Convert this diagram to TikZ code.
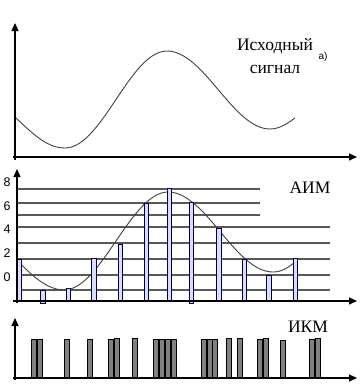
\documentclass[tikz,border=0pt]{standalone}
\usepackage{fontspec}
\setmainfont{Liberation Serif}
\newfontfamily\arialfont{Liberation Sans}
\usetikzlibrary{arrows.meta}

\begin{document}
\begin{tikzpicture}[
    x=1pt, y=-1pt,
    >={Triangle[length=8pt, width=7pt]},
    axis/.style={->, line width=1.1pt, black},
    sig/.style={line width=0.9pt, black!75},
    level/.style={line width=1.7pt, black!65},
    aim/.style={draw=black!75!blue, fill=blue!14, line width=0.9pt},
    ikm/.style={draw=black, fill=black!50, line width=0.8pt},
    title/.style={font=\fontsize{17.5}{23}\selectfont, align=center},
    tick/.style={font=\arialfont\fontsize{12.5}{13}\selectfont},
    small/.style={font=\arialfont\fontsize{10}{11}\selectfont}
]
    \useasboundingbox (0,0) rectangle (364,384);

    % a) source signal
    \draw[axis] (15,160) -- (15,23);
    \draw[axis] (13,157) -- (357,157);
    \draw[sig] (16,118) .. controls (35,136) and (48,148) .. (65,148)
        .. controls (102,148) and (130,51) .. (167,51)
        .. controls (204,51) and (233,129) .. (270,129)
        .. controls (280,129) and (288,123) .. (295,118);
    \node[title] (src) at (275,56) {Исходный\\сигнал};
    \node[small] (lbla) at (323,57) {а)};

    % b) PAM
    \foreach \y in {189,203,215}
        \draw[level] (18,\y) -- (260,\y);
    \foreach \y in {227,243,259,275,290}
        \draw[level] (18,\y) -- (330,\y);
    \foreach \v/\y in {8/182,6/206,4/229,2/253,0/277}
        \node[tick] at (7,\y) {\v};
    \draw[sig] (19,262) .. controls (32,276) and (48,290) .. (64,290)
        .. controls (101,290) and (131,192) .. (168,192)
        .. controls (206,192) and (235,272) .. (273,272)
        .. controls (282,272) and (289,267) .. (295,262);
    \foreach \x/\t/\b in {19/259/301, 43/290/303, 68.5/288/301, 94/258/301,
                          120.5/244/301, 146.5/203/301, 169.5/188/301, 191.5/202/303,
                          219/228/301, 244.5/259/301, 269/275/301, 295.5/258/301}
        \draw[aim] (\x-2.3,\t) rectangle (\x+2.3,\b);
    \draw[axis] (17,303) -- (17,169);
    \draw[axis] (13,301) -- (357,301);
    \node[title] (pam) at (310,188) {АИМ};

    % c) PCM
    \foreach \x/\t in {34/339, 39.5/339, 66.5/339, 89.5/339, 110.5/339, 117/338,
                       134.5/338, 155.5/339, 161.5/339, 167.5/339, 173.5/339,
                       203.5/339, 209.5/339, 214.5/339, 228.5/338, 239.5/338,
                       260/339, 265.5/338, 282.5/340, 311.5/339, 317.5/338}
        \draw[ikm] (\x-2.5,\t) rectangle (\x+2.5,378);
    \draw[axis] (15,380) -- (15,318);
    \draw[axis] (13,378) -- (357,378);
    \node[title] (pcm) at (308,327) {ИКМ};
\end{tikzpicture}
\end{document}
